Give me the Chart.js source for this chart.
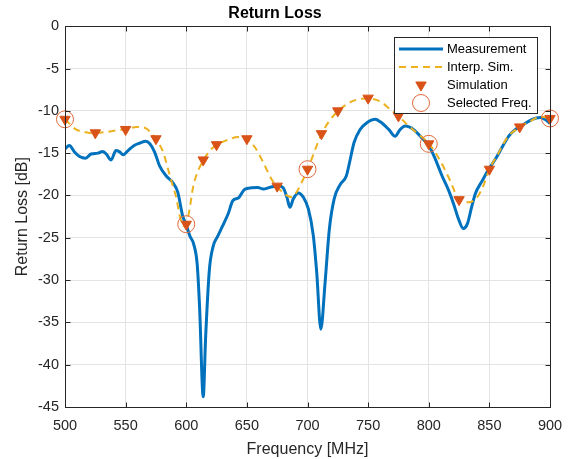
<!DOCTYPE html>
<html>
<head>
<meta charset="utf-8">
<script src="https://cdn.jsdelivr.net/npm/chart.js@4.4.1/dist/chart.umd.min.js"></script>
<style>
html,body{margin:0;padding:0;background:#fff;}
#wrap{width:574px;height:459px;}
</style>
</head>
<body>
<div id="wrap"><canvas id="c" width="574" height="459"></canvas></div>
<script>
// ---- Data ----
const measFreq = [500,503.5,508,512,517,521.5,527,531,534,538,542,545,548,552,557,562,566.5,570,574,578,583.5,589,593,597,600,603,606,609,611,614,616,619,622,626,630,634.5,638.5,643,648,654,659,663.5,669,676,680,683,685.5,688.3,692.4,696.5,700.7,704.8,707.6,711,714.5,718,722,727,732,735,738.4,743.4,749,755.8,760,767,772.3,776.4,780.6,787.4,794.4,800,805.4,811,816.4,820.5,824.6,828.5,832,835,838.4,844,849.4,855,860.5,866,871.5,878.4,885.3,892,897.7,900];
const measRL = [-14.5,-14.1,-14.9,-15.4,-15.6,-15.1,-15.0,-14.8,-15.1,-15.8,-14.7,-14.85,-15.2,-14.7,-14.1,-13.8,-13.6,-13.9,-14.9,-16.5,-17.7,-18.5,-19.6,-22.4,-23.5,-24.8,-25.7,-28.1,-33.2,-43.8,-36.7,-28.9,-26.1,-24.8,-23.6,-22.2,-20.6,-20.3,-19.3,-19.1,-19.05,-19.25,-19.05,-18.85,-19.1,-20.2,-21.4,-20.4,-19.7,-20.2,-21.6,-24.75,-29.1,-35.8,-30.3,-24.0,-20.4,-18.7,-17.7,-15.9,-13.75,-12.2,-11.4,-11.0,-11.3,-12.2,-13.0,-12.2,-11.8,-12.2,-13.2,-14.1,-15.7,-17.7,-19.4,-21.0,-22.8,-23.9,-23.3,-21.6,-19.8,-18.3,-16.9,-15.7,-14.3,-13.0,-12.2,-11.6,-11.0,-10.8,-11.2,-11.5];

const interpFreq = [500,509,516,524,534,545,550,559,565.7,571,575,581,585,589,592,594.6,598,600,603,605.6,609.7,614,619.4,624.4,633,642.8,650,656.6,663.5,670.4,675,683,687,691,695,700,703.4,707.6,711.5,717,725,735,743.4,750,760,768,775,782,790,800,809.5,817.8,825,833,840,845.5,850,856.4,864.6,875,884,892,900];
const interpRL = [-11.0,-12.2,-12.5,-12.65,-12.5,-12.25,-12.2,-11.9,-12.0,-12.6,-13.35,-14.9,-16.9,-18.9,-20.4,-22.4,-23.6,-23.4,-21.4,-19.05,-17.1,-15.9,-14.7,-14.1,-13.5,-13.1,-13.3,-14.3,-16.1,-18.1,-19.0,-20.0,-20.2,-19.6,-18.5,-17.0,-15.7,-14.1,-12.8,-11.4,-10.05,-9.0,-8.6,-8.55,-8.9,-9.8,-10.6,-11.6,-12.6,-13.85,-15.9,-18.3,-20.5,-20.8,-20.2,-18.7,-16.9,-15.3,-13.2,-11.9,-11.2,-10.7,-10.9];

const simFreq = [500,525,550,575,600,614,625,650,675,700,711.5,725,750,775,800,825,850,875,900];
const simRL = [-11.0,-12.6,-12.2,-13.3,-23.4,-15.8,-14.0,-13.3,-18.9,-16.9,-12.7,-10.0,-8.5,-10.6,-13.9,-20.5,-16.9,-11.9,-10.9];

const selFreq = [500,600,700,800,900];
const selRL = [-11.0,-23.4,-16.9,-13.9,-10.9];

const xTicks = [500,550,600,650,700,750,800,850,900];
const yTicks = [0,-5,-10,-15,-20,-25,-30,-35,-40,-45];

const seriesNames = ['Measurement','Interp. Sim.','Simulation','Selected Freq.'];
const titleText = 'Return Loss';
const xLabel = 'Frequency [MHz]';
const yLabel = 'Return Loss [dB]';

const pts = (xs, ys) => xs.map((x, i) => ({x: x, y: ys[i]}));

const FONT = "'Liberation Sans', Arial, Helvetica, sans-serif";
const AXIS = '#262626';

const frame = {
  id: 'frame',
  afterDraw(chart) {
    const ctx = chart.ctx, a = chart.chartArea;
    const xs = chart.scales.x, ys = chart.scales.y;
    ctx.save();
    ctx.strokeStyle = AXIS;
    ctx.lineWidth = 1;
    const L = Math.round(a.left) + 0.5, R = Math.round(a.right) + 0.5;
    const T = Math.round(a.top) + 0.5, B = Math.round(a.bottom) + 0.5;
    ctx.beginPath();
    xTicks.forEach(v => {
      const p = Math.round(xs.getPixelForValue(v)) + 0.5;
      ctx.moveTo(p, B); ctx.lineTo(p, B - 5);
      ctx.moveTo(p, T); ctx.lineTo(p, T + 5);
    });
    yTicks.forEach(v => {
      const p = Math.round(ys.getPixelForValue(v)) + 0.5;
      ctx.moveTo(L, p); ctx.lineTo(L + 5, p);
      ctx.moveTo(R, p); ctx.lineTo(R - 5, p);
    });
    ctx.stroke();
    ctx.strokeRect(L, T, R - L, B - T);

    // legend box
    const bx = 394.5, by = 37.5, bw = 143, bh = 76;
    ctx.fillStyle = '#fff';
    ctx.fillRect(bx, by, bw, bh);
    ctx.strokeStyle = AXIS;
    ctx.strokeRect(bx, by, bw, bh);
    const ds = chart.data.datasets;
    const rows = [49, 67, 85, 103];
    const sx0 = 399, sx1 = 443, tx = 447;
    ctx.font = '13px ' + FONT;
    ctx.textBaseline = 'middle';
    ctx.textAlign = 'left';
    rows.forEach((ry, i) => {
      const d = ds[i];
      ctx.save();
      if (i < 2) {
        ctx.strokeStyle = d.borderColor;
        ctx.lineWidth = d.borderWidth;
        ctx.setLineDash(d.borderDash || []);
        ctx.beginPath(); ctx.moveTo(sx0, ry); ctx.lineTo(sx1, ry); ctx.stroke();
      } else {
        ctx.fillStyle = d.backgroundColor;
        ctx.strokeStyle = d.borderColor;
        ctx.lineWidth = d.borderWidth;
        Chart.helpers.drawPoint(ctx, {
          pointStyle: d.pointStyle, rotation: d.rotation || 0,
          radius: d.pointRadius, borderWidth: d.borderWidth
        }, 421, ry);
      }
      ctx.restore();
      ctx.fillStyle = '#000';
      ctx.fillText(d.label, tx, ry + 0.5);
    });
    ctx.restore();
  }
};

new Chart(document.getElementById('c'), {
  type: 'scatter',
  data: {
    datasets: [
      {
        label: seriesNames[0], data: pts(measFreq, measRL), showLine: true,
        borderColor: '#0072BD', backgroundColor: '#0072BD', borderWidth: 3,
        pointRadius: 0, cubicInterpolationMode: 'monotone', order: 4
      },
      {
        label: seriesNames[1], data: pts(interpFreq, interpRL), showLine: true,
        borderColor: '#EDB120', backgroundColor: '#EDB120', borderWidth: 2,
        borderDash: [7, 5], pointRadius: 0, cubicInterpolationMode: 'monotone', order: 3
      },
      {
        label: seriesNames[2], data: pts(simFreq, simRL), showLine: false, clip: false,
        pointStyle: 'triangle', rotation: 180, pointRadius: 6,
        backgroundColor: '#D95319', borderColor: '#D95319', borderWidth: 1, order: 2
      },
      {
        label: seriesNames[3], data: pts(selFreq, selRL), showLine: false, clip: false,
        pointStyle: 'circle', pointRadius: 8.5,
        backgroundColor: 'rgba(0,0,0,0)', borderColor: '#E0683A', borderWidth: 1, order: 1
      }
    ]
  },
  options: {
    responsive: false,
    animation: false,
    events: [],
    layout: { padding: { left: 0, right: 24, top: 0, bottom: 0 } },
    plugins: {
      legend: { display: false },
      tooltip: { enabled: false },
      title: {
        display: true, text: titleText, color: '#000',
        font: { family: FONT, size: 16, weight: 'bold' },
        padding: { top: 4, bottom: 3 }
      }
    },
    scales: {
      x: {
        type: 'linear', min: 500, max: 900,
        afterBuildTicks: s => { s.ticks = xTicks.map(v => ({value: v})); },
        afterFit: s => { s.height = 52; },
        grid: { color: '#E3E3E3', drawTicks: false },
        border: { display: false },
        ticks: { color: AXIS, font: { family: FONT, size: 14.5 }, padding: 10, maxRotation: 0, autoSkip: false },
        title: { display: true, text: xLabel, color: AXIS, font: { family: FONT, size: 16 }, padding: { top: 0, bottom: 0 } }
      },
      y: {
        type: 'linear', min: -45, max: 0,
        afterBuildTicks: s => { s.ticks = yTicks.map(v => ({value: v})); },
        afterFit: s => { s.width = 65; },
        grid: { color: '#E3E3E3', drawTicks: false },
        border: { display: false },
        ticks: { color: AXIS, font: { family: FONT, size: 14.5 }, padding: 6, autoSkip: false },
        title: { display: true, text: yLabel, color: AXIS, font: { family: FONT, size: 16 }, padding: { top: 13, bottom: 0 } }
      }
    }
  },
  plugins: [frame]
});
</script>
</body>
</html>
